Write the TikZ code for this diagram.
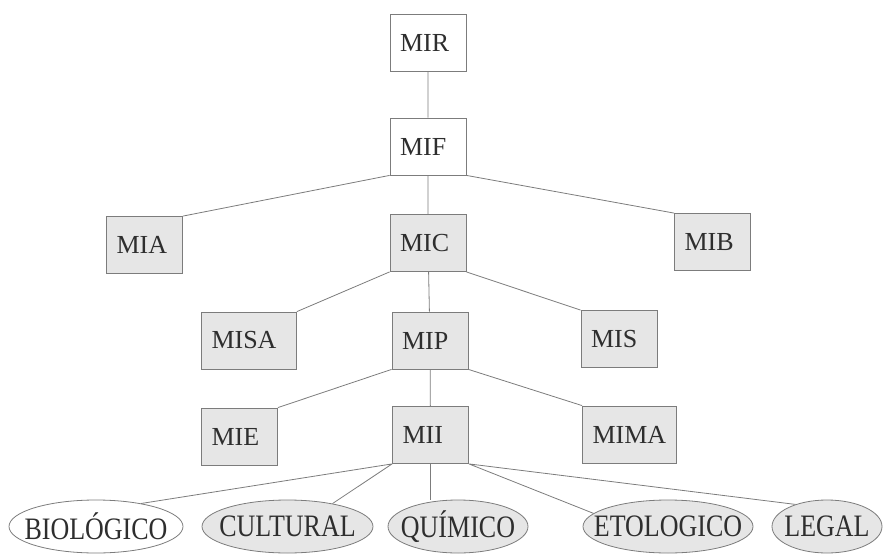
\documentclass[tikz,border=0pt]{standalone}
\usepackage{graphicx,xcolor}
\usepackage{fontspec}
\setmainfont{Liberation Serif}
\usetikzlibrary{shapes.geometric}
\definecolor{linea}{HTML}{7C7C7C}
\definecolor{relleno}{HTML}{E6E6E6}
\definecolor{letra}{HTML}{2E2E2E}

\begin{document}
\begin{tikzpicture}[x=1pt,y=-1pt]
                \useasboundingbox (0,0) rectangle (883,556);
                \tikzset{every node/.style={font=\fontsize{26}{30}\selectfont,text=letra}}
                \tikzstyle{caja}=[rectangle,draw=linea,fill=relleno,line width=0.8pt,inner xsep=10pt,text width=56pt,align=left,minimum height=57pt]
                \tikzstyle{ovalo}=[ellipse,draw=linea,fill=relleno,line width=0.8pt,minimum height=53pt,inner sep=0pt]
                \tikzstyle{rama}=[draw=linea,line width=0.8pt]
                \newcommand\caja[5]{\node[caja,#4] at (#1,#2) (#3) {#5};}
                \newcommand\ovalo[5]{\node[ovalo,#4] at (#1,#2) (#3) {\makebox[0pt]{\scalebox{1}[1.2]{#5}}};}
                \caja{428}{42.5}{MIR}{fill=white}{MIR};
                \caja{428}{146.5}{MIF}{fill=white}{MIF};
                \caja{144.5}{245}{MIA}{}{MIA};
                \caja{428}{243}{MIC}{}{MIC};
                \caja{712.5}{242}{MIB}{}{MIB};
                \caja{249}{340.5}{MISA}{text width=75pt}{MISA};
                \caja{430}{340.5}{MIP}{}{MIP};
                \caja{619}{339}{MIS}{}{MIS};
                \caja{239.5}{436.5}{MIE}{}{MIE};
                \caja{430.5}{435}{MII}{}{MII};
                \caja{629.5}{434.5}{MIMA}{text width=74pt}{MIMA};
                \ovalo{96}{526.5}{bio}{minimum width=174pt,fill=white}{BIOLÓGICO};
                \ovalo{287.5}{526.5}{cul}{minimum width=171pt}{CULTURAL};
                \ovalo{458}{526.5}{qui}{minimum width=140pt}{QUÍMICO};
                \ovalo{668}{526.5}{eto}{minimum width=170pt}{ETOLOGICO};
                \ovalo{827}{526.5}{leg}{minimum width=110pt}{LEGAL};
                \path[rama] (MIR) -- (MIF) (MIF) -- (MIC) (MIC) -- (MIP) (MIP) -- (MII);
                \path[rama] (MIF.south west) -- (MIA.north east) (MIF.south east) -- (MIB.north west);
                \path[rama] (MIC.south west) -- (MISA.north east) (MIC.south east) -- (MIS.north west);
                \path[rama] (MIP.south west) -- (MIE.north east) (MIP.south east) -- (MIMA.north west);
                \path[rama] (MII.south west) -- (bio.27) (MII.south west) -- (cul.27);
                \path[rama] (MII.south) -- (MII.south |- qui.north);
                \path[rama] (MII.south east) -- (eto.170) (MII.south east) -- (leg.145);
            \end{tikzpicture}
\end{document}
